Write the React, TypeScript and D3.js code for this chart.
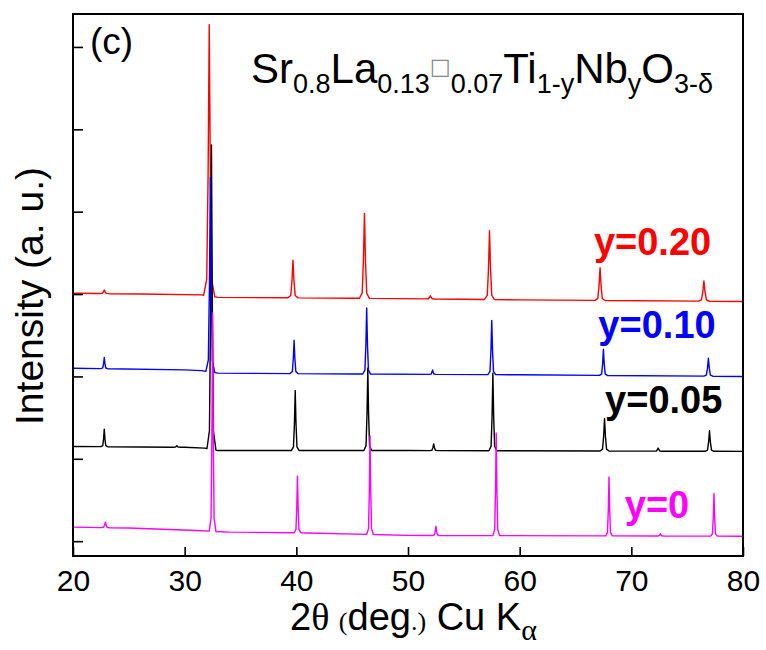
import React, { useEffect, useRef } from "react";
import * as d3 from "d3";

// 2theta tick values
const xTicks = [20, 30, 40, 50, 60, 70, 80];
const yTicks = [0, 1, 2, 3, 4, 5, 6];

// baselines [2theta, intensity]
const redBase = [[20, 3.01], [26, 3.0], [31.5, 2.99], [33, 2.96], [45, 2.95], [60, 2.93], [80, 2.91]];
const blueBase = [[20, 2.1], [30, 2.08], [31.5, 2.07], [33, 2.04], [45, 2.03], [60, 2.02], [80, 2.0]];
const blackBase = [[20, 1.15], [30, 1.14], [31.8, 1.13], [33, 1.1], [50, 1.1], [80, 1.09]];
const magentaBase = [[20, 0.17], [25, 0.16], [31, 0.13], [34, 0.11], [41, 0.1], [50, 0.07], [80, 0.06]];

// peaks [2theta, top intensity, half base width]
const redPeaks = [[22.8, 3.05, 0.4], [32.2, 6.27, 0.5], [39.7, 3.41, 0.45], [46.1, 3.98, 0.45], [52.0, 2.98, 0.4], [57.3, 3.77, 0.45], [67.2, 3.32, 0.45], [76.5, 3.16, 0.5]];
const bluePeaks = [[22.8, 2.23, 0.3], [32.3, 4.42, 0.4], [39.8, 2.44, 0.35], [46.3, 2.83, 0.35], [52.2, 2.08, 0.3], [57.5, 2.68, 0.35], [67.5, 2.33, 0.35], [76.9, 2.22, 0.4]];
const blackPeaks = [[22.8, 1.36, 0.3], [29.3, 1.16, 0.3], [32.4, 4.81, 0.4], [39.9, 1.83, 0.35], [46.4, 2.1, 0.35], [52.3, 1.18, 0.35], [57.6, 2.04, 0.35], [67.6, 1.49, 0.4], [72.4, 1.13, 0.35], [77.0, 1.34, 0.4]];
const magentaPeaks = [[22.9, 0.23, 0.35], [32.5, 2.77, 0.3], [40.1, 0.79, 0.3], [46.6, 1.28, 0.3], [52.5, 0.18, 0.3], [57.9, 1.31, 0.3], [68.0, 0.78, 0.3], [72.6, 0.09, 0.3], [77.4, 0.58, 0.3]];

const seriesNames = ["y=0.20", "y=0.10", "y=0.05", "y=0"];

// peak outline shape (relative)
const profile = [[-1, 0], [-0.45, 0.06], [-0.2, 0.45], [0, 1], [0.2, 0.45], [0.45, 0.06], [1, 0]];

function buildTrace(base, peaks) {
  const b = d3.scaleLinear().domain(base.map(d => d[0])).range(base.map(d => d[1]));
  const pts = base.filter(([x]) => !peaks.some(([p, , w]) => Math.abs(x - p) <= w));
  peaks.forEach(([p, top, w]) => {
    const h = top - b(p);
    profile.forEach(([dx, f]) => {
      const x = p + dx * w;
      pts.push([x, b(x) + f * h]);
    });
  });
  return pts.sort((a, c) => a[0] - c[0]);
}

export default function App() {
  const ref = useRef(null);

  useEffect(() => {
    const svg = d3.select(ref.current);
    svg.selectAll("*").remove();

    const left = 73, right = 743, top = 14, bottom = 556;

    const x = d3.scaleLinear().domain([20, 80]).range([left, right]);
    const y = d3.scaleLinear().domain([-0.18, 6.4]).range([bottom, top]);

    const line = d3.line().x(d => x(d[0])).y(d => y(d[1]));

    const traces = [
      { pts: buildTrace(redBase, redPeaks), color: "#ff0000" },
      { pts: buildTrace(blackBase, blackPeaks), color: "#000000" },
      { pts: buildTrace(blueBase, bluePeaks), color: "#0000ff" },
      { pts: buildTrace(magentaBase, magentaPeaks), color: "#ff00ff" },
    ];

    traces.forEach(t => {
      svg.append("path")
        .attr("d", line(t.pts))
        .attr("fill", "none")
        .attr("stroke", t.color)
        .attr("stroke-width", 1.4)
        .attr("stroke-linejoin", "round");
    });

    // AXES
    const xAxis = svg.append("g")
      .attr("transform", `translate(0,${bottom})`)
      .call(d3.axisBottom(x).tickValues(xTicks).tickSizeInner(-9).tickSizeOuter(0).tickPadding(14));
    xAxis.select(".domain").remove();
    xAxis.selectAll("line").attr("stroke-width", 1.6);
    xAxis.selectAll("text")
      .attr("font-family", "Arial, 'Liberation Sans', sans-serif")
      .attr("font-size", 30)
      .attr("fill", "#000");

    const yAxis = svg.append("g")
      .attr("transform", `translate(${left},0)`)
      .call(d3.axisLeft(y).tickValues(yTicks).tickSizeInner(-10).tickSizeOuter(0).tickFormat(() => ""));
    yAxis.select(".domain").remove();
    yAxis.selectAll("line").attr("stroke-width", 1.6);

    svg.append("rect")
      .attr("x", left).attr("y", top)
      .attr("width", right - left).attr("height", bottom - top)
      .attr("fill", "none").attr("stroke", "#000").attr("stroke-width", 2);

    const font = "Arial, 'Liberation Sans', sans-serif";

    // series labels
    const labelPos = [[71.9, 3.47], [72.3, 2.47], [72.9, 1.55], [72.3, 0.28]];
    const labelColors = ["#ff0000", "#0000ff", "#000000", "#ff00ff"];
    seriesNames.forEach((name, i) => {
      svg.append("text")
        .attr("x", x(labelPos[i][0]))
        .attr("y", y(labelPos[i][1]))
        .attr("text-anchor", "middle")
        .attr("font-family", font)
        .attr("font-weight", "bold")
        .attr("font-size", 38)
        .attr("fill", labelColors[i])
        .text(name);
    });

    // panel letter
    svg.append("text")
      .attr("x", 90).attr("y", 54)
      .attr("font-family", font).attr("font-size", 37)
      .text("(c)");

    // formula
    const f = svg.append("text")
      .attr("x", 251).attr("y", 83)
      .attr("font-family", font).attr("font-size", 42).attr("fill", "#000");
    const parts = [
      ["Sr", 0], ["0.8", 1], ["La", 0], ["0.13", 1], ["box", 2], ["0.07", 1],
      ["Ti", 0], ["1-y", 1], ["Nb", 0], ["y", 1], ["O", 0], ["3-δ", 1],
    ];
    let shift = 0;
    parts.forEach(([t, k]) => {
      const want = k === 1 ? 10 : k === 2 ? -9 : 0;
      const s = f.append("tspan").attr("dy", want - shift);
      shift = want;
      if (k === 1) s.attr("font-size", 27).text(t);
      else if (k === 2) s.attr("font-size", 22).attr("font-family", "'DejaVu Sans'").attr("fill", "#888").text("□");
      else s.text(t);
    });

    // y label
    svg.append("text")
      .attr("transform", "translate(43,296) rotate(-90)")
      .attr("text-anchor", "middle")
      .attr("font-family", font).attr("font-size", 39)
      .text("Intensity (a. u.)");

    // x label
    const xl = svg.append("text")
      .attr("x", 290).attr("y", 630)
      .attr("font-family", font).attr("font-size", 38).attr("fill", "#000");
    xl.append("tspan").text("2");
    xl.append("tspan").attr("font-family", "'Liberation Serif', serif").text("θ ");
    xl.append("tspan").attr("font-family", "'Liberation Serif', serif").attr("font-size", 26).text("(");
    xl.append("tspan").text("deg");
    xl.append("tspan").attr("font-family", "'Liberation Serif', serif").attr("font-size", 26).text(".)");
    xl.append("tspan").text(" Cu K");
    xl.append("tspan").attr("font-family", "'Liberation Serif', serif").attr("font-size", 30).attr("dy", 10).text("α");
  }, []);

  return (
    <svg
      ref={ref}
      width={766}
      height={650}
      style={{ position: "absolute", left: 0, top: 0, background: "#fff" }}
    />
  );
}
